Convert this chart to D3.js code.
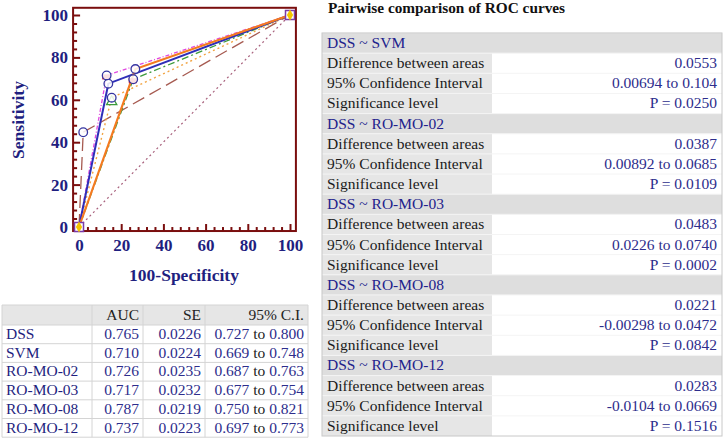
<!DOCTYPE html>
<html lang="en">
<head>
<meta charset="UTF-8">
<title>Pairwise comparison of ROC curves</title>
<script src="https://cdn.jsdelivr.net/npm/d3@7"></script>
<style>
  body { margin: 0; background: #fff; }
  text { font-family: "Liberation Serif", "Times New Roman", serif; }
</style>
</head>
<body>
<script>
// ---- data ----
const models = ["DSS", "SVM", "RO-MO-02", "RO-MO-03", "RO-MO-08", "RO-MO-12"];
const auc    = [0.765, 0.710, 0.726, 0.717, 0.787, 0.737];
const se     = [0.0226, 0.0224, 0.0235, 0.0232, 0.0219, 0.0223];
const ciLow  = [0.727, 0.669, 0.687, 0.677, 0.750, 0.697];
const ciHigh = [0.800, 0.748, 0.763, 0.754, 0.821, 0.773];
// operating point of each classifier (100-specificity, sensitivity)
const fpr = [13.9, 2.0, 15.5, 25.7, 13.1, 26.7];
const tpr = [67.6, 44.7, 61.0, 69.7, 71.5, 74.5];

const compared  = ["SVM", "RO-MO-02", "RO-MO-03", "RO-MO-08", "RO-MO-12"];
const diffAreas = [0.0553, 0.0387, 0.0483, 0.0221, 0.0283];
const diffLow   = [0.00694, 0.00892, 0.0226, -0.00298, -0.0104];
const diffHigh  = [0.104, 0.0685, 0.0740, 0.0472, 0.0669];
const pValues   = [0.0250, 0.0109, 0.0002, 0.0842, 0.1516];

const xTicks = [0, 20, 40, 60, 80, 100];
const yTicks = [0, 20, 40, 60, 80, 100];

// ---- styles ----
const lineColor = ["#2e2eb8", "#a65a50", "#f2a544", "#3c9a3c", "#e048e0", "#f47a20"];
const lineDash  = [null, "13,6", "2,3", "7,3,2,3", "4,2,1,2", null];
const lineWidth = [2, 1.3, 1.4, 1.3, 1.3, 2.2];
const drawOrder = [1, 3, 2, 4, 0, 5];
const navy = "#1f1f80";
const axisColor = "#7a0e0e";

const w = 724, h = 440;
const svg = d3.select("body").append("svg")
  .attr("width", w)
  .attr("height", h);

// ---- ROC plot ----
const xScale = d3.scaleLinear().domain([0, 100]).range([79, 290]);
const yScale = d3.scaleLinear().domain([0, 100]).range([227, 15]);
const frameX = [-2.8, 102.8], frameY = [-1.9, 103.4];

const plot = svg.append("g");

plot.append("rect")
  .attr("x", xScale(frameX[0]))
  .attr("y", yScale(frameY[1]))
  .attr("width", xScale(frameX[1]) - xScale(frameX[0]))
  .attr("height", yScale(frameY[0]) - yScale(frameY[1]))
  .attr("fill", "none")
  .attr("stroke", axisColor)
  .attr("stroke-width", 2);

const minor = d3.range(0, 101, 4).filter(v => v % 20 !== 0);

function styleAxis(g) {
  g.select(".domain").remove();
  g.selectAll("line").attr("stroke", axisColor).attr("stroke-width", 2);
  g.selectAll("text")
    .attr("fill", navy)
    .style("font-family", "'Liberation Serif', serif")
    .style("font-weight", "bold")
    .style("font-size", "17px");
}

const xAxisY = yScale(frameY[0]);
const xAxisX = xScale(frameX[0]);

plot.append("g")
  .attr("transform", `translate(0,${xAxisY})`)
  .call(d3.axisBottom(xScale).tickValues(xTicks).tickSize(-7).tickPadding(8))
  .call(styleAxis);
plot.append("g")
  .attr("transform", `translate(0,${xAxisY})`)
  .call(d3.axisBottom(xScale).tickValues(minor).tickSize(-4).tickFormat(""))
  .call(styleAxis);
plot.append("g")
  .attr("class", "y-axis")
  .attr("transform", `translate(${xAxisX},0)`)
  .call(d3.axisLeft(yScale).tickValues(yTicks).tickSize(-7).tickPadding(5))
  .call(styleAxis);
plot.append("g")
  .attr("transform", `translate(${xAxisX},0)`)
  .call(d3.axisLeft(yScale).tickValues(minor).tickSize(-4).tickFormat(""))
  .call(styleAxis);

// y tick labels sit outside the frame
plot.selectAll(".y-axis text").attr("x", -5);

// axis titles
plot.append("text")
  .attr("x", 184)
  .attr("y", 281)
  .attr("text-anchor", "middle")
  .attr("fill", navy)
  .attr("font-weight", "bold")
  .attr("font-size", 17.5)
  .text("100-Specificity");

plot.append("text")
  .attr("transform", "translate(24,120) rotate(-90)")
  .attr("text-anchor", "middle")
  .attr("fill", navy)
  .attr("font-weight", "bold")
  .attr("font-size", 17.5)
  .text("Sensitivity");

// reference diagonal
const line = d3.line().x(d => xScale(d[0])).y(d => yScale(d[1]));
plot.append("path")
  .attr("d", line([[0, 0], [100, 100]]))
  .attr("fill", "none")
  .attr("stroke", "#a8607c")
  .attr("stroke-width", 1.2)
  .attr("stroke-dasharray", "2,3");

// ROC curves
drawOrder.forEach(i => {
  plot.append("path")
    .attr("d", line([[0, 0], [fpr[i], tpr[i]], [100, 100]]))
    .attr("fill", "none")
    .attr("stroke", lineColor[i])
    .attr("stroke-width", lineWidth[i])
    .attr("stroke-dasharray", lineDash[i]);
});

// secondary markers under the operating point circles
const extra = [null, null, "triangle", "square", "square", null];
models.forEach((m, i) => {
  if (!extra[i]) return;
  const px = xScale(fpr[i]), py = yScale(tpr[i]);
  if (extra[i] === "triangle") {
    plot.append("path")
      .attr("d", d3.symbol().type(d3.symbolTriangle).size(45)())
      .attr("transform", `translate(${px},${py + 4})`)
      .attr("fill", "#fff")
      .attr("stroke", "#3c9a3c")
      .attr("stroke-width", 1.3);
  } else {
    plot.append("rect")
      .attr("x", px - 4.5).attr("y", py - 1)
      .attr("width", 8).attr("height", 5)
      .attr("fill", "#d8283c");
  }
});

plot.selectAll("circle.op")
  .data(models.map((m, i) => [fpr[i], tpr[i]]))
  .enter()
  .append("circle")
  .attr("class", "op")
  .attr("cx", d => xScale(d[0]))
  .attr("cy", d => yScale(d[1]))
  .attr("r", 4.3)
  .attr("fill", "#fff")
  .attr("fill-opacity", 0.85)
  .attr("stroke", "#3535a0")
  .attr("stroke-width", 1.3);

// end points
[[0, 0], [100, 100]].forEach(d => {
  const px = xScale(d[0]), py = yScale(d[1]);
  plot.append("rect")
    .attr("x", px - 4.5).attr("y", py - 4.5)
    .attr("width", 9).attr("height", 9)
    .attr("fill", "#fff")
    .attr("stroke", "#7a3aa8")
    .attr("stroke-width", 1.5);
  plot.append("path")
    .attr("d", d3.symbol().type(d3.symbolDiamond).size(34)())
    .attr("transform", `translate(${px},${py})`)
    .attr("fill", "#f4c400");
});

// ---- summary table (bottom left) ----
const fmt3 = d3.format(".3f"), fmt4 = d3.format(".4f");
const lt = svg.append("g");
const ltCols = [2, 92, 143, 205, 308];
const ltTop = 305, ltHead = 20, ltRow = 18.7, ltFont = 15.5;
const ltHeaders = ["", "AUC", "SE", "95% C.I."];

lt.append("rect")
  .attr("x", ltCols[0]).attr("y", ltTop)
  .attr("width", ltCols[4] - ltCols[0]).attr("height", ltHead)
  .attr("fill", "#e6e6e6");

// grid
for (let r = 0; r <= models.length; r++) {
  const yy = ltTop + ltHead + r * ltRow;
  lt.append("line").attr("x1", ltCols[0]).attr("x2", ltCols[4])
    .attr("y1", yy).attr("y2", yy).attr("stroke", "#d4d4d4");
}
lt.append("line").attr("x1", ltCols[0]).attr("x2", ltCols[4])
  .attr("y1", ltTop).attr("y2", ltTop).attr("stroke", "#d4d4d4");
ltCols.forEach(cx => {
  lt.append("line").attr("x1", cx).attr("x2", cx)
    .attr("y1", ltTop).attr("y2", ltTop + ltHead + models.length * ltRow)
    .attr("stroke", "#d4d4d4");
});

ltHeaders.forEach((t, c) => {
  lt.append("text")
    .attr("x", ltCols[c + 1] - 4)
    .attr("y", ltTop + 15)
    .attr("text-anchor", "end")
    .attr("font-size", ltFont)
    .attr("fill", "#222")
    .text(t);
});

models.forEach((m, i) => {
  const yy = ltTop + ltHead + i * ltRow + 14;
  lt.append("text").attr("x", ltCols[0] + 4).attr("y", yy)
    .attr("font-size", ltFont).attr("fill", navy).text(m);
  lt.append("text").attr("x", ltCols[2] - 4).attr("y", yy)
    .attr("text-anchor", "end").attr("font-size", ltFont).attr("fill", "#2d2d8c")
    .text(fmt3(auc[i]));
  lt.append("text").attr("x", ltCols[3] - 4).attr("y", yy)
    .attr("text-anchor", "end").attr("font-size", ltFont).attr("fill", "#2d2d8c")
    .text(fmt4(se[i]));
  const ci = lt.append("text").attr("x", ltCols[4] - 4).attr("y", yy)
    .attr("text-anchor", "end").attr("font-size", ltFont).attr("fill", "#2d2d8c");
  ci.append("tspan").text(fmt3(ciLow[i]));
  ci.append("tspan").attr("fill", "#222").text(" to ");
  ci.append("tspan").text(fmt3(ciHigh[i]));
});

// ---- pairwise comparison table (right) ----
const sig = v => d3.format(".3r")(v).replace("\u2212", "-");
const rt = svg.append("g");
const rtX0 = 322, rtX1 = 492, rtX2 = 722, rtTop = 33, rtRow = 20.15;

rt.append("text")
  .attr("x", 328).attr("y", 13)
  .attr("font-size", 15.3).attr("font-weight", "bold").attr("fill", "#111")
  .text("Pairwise comparison of ROC curves");

const rows = [];
compared.forEach((c, k) => {
  rows.push({ section: true, label: models[0] + " ~ " + c });
  rows.push({ label: "Difference between areas", value: [sig(diffAreas[k])] });
  rows.push({ label: "95% Confidence Interval", value: [sig(diffLow[k]), " to ", sig(diffHigh[k])] });
  rows.push({ label: "Significance level", value: ["P = " + fmt4(pValues[k])] });
});

rows.forEach((r, i) => {
  const yy = rtTop + i * rtRow;
  if (r.section) {
    rt.append("rect").attr("x", rtX0).attr("y", yy)
      .attr("width", rtX2 - rtX0).attr("height", rtRow)
      .attr("fill", "#dedede");
    rt.append("text").attr("x", rtX0 + 5).attr("y", yy + 15)
      .attr("font-size", 15.5).attr("fill", "#22228c").text(r.label);
  } else {
    rt.append("rect").attr("x", rtX0).attr("y", yy)
      .attr("width", rtX1 - rtX0).attr("height", rtRow)
      .attr("fill", "#e6e6e6");
    rt.append("text").attr("x", rtX0 + 5).attr("y", yy + 15)
      .attr("font-size", 15.5).attr("fill", "#1a1a1a").text(r.label);
    const t = rt.append("text").attr("x", rtX2 - 5).attr("y", yy + 15)
      .attr("text-anchor", "end").attr("font-size", 15.5).attr("fill", "#2d2d8c");
    r.value.forEach(v => t.append("tspan").text(v));
  }
  rt.append("line").attr("x1", rtX0).attr("x2", rtX2)
    .attr("y1", yy).attr("y2", yy).attr("stroke", "#f4f4f4");
});

rt.append("rect").attr("x", rtX0).attr("y", rtTop)
  .attr("width", rtX2 - rtX0).attr("height", rows.length * rtRow)
  .attr("fill", "none").attr("stroke", "#c8c8c8");
</script>
</body>
</html>
